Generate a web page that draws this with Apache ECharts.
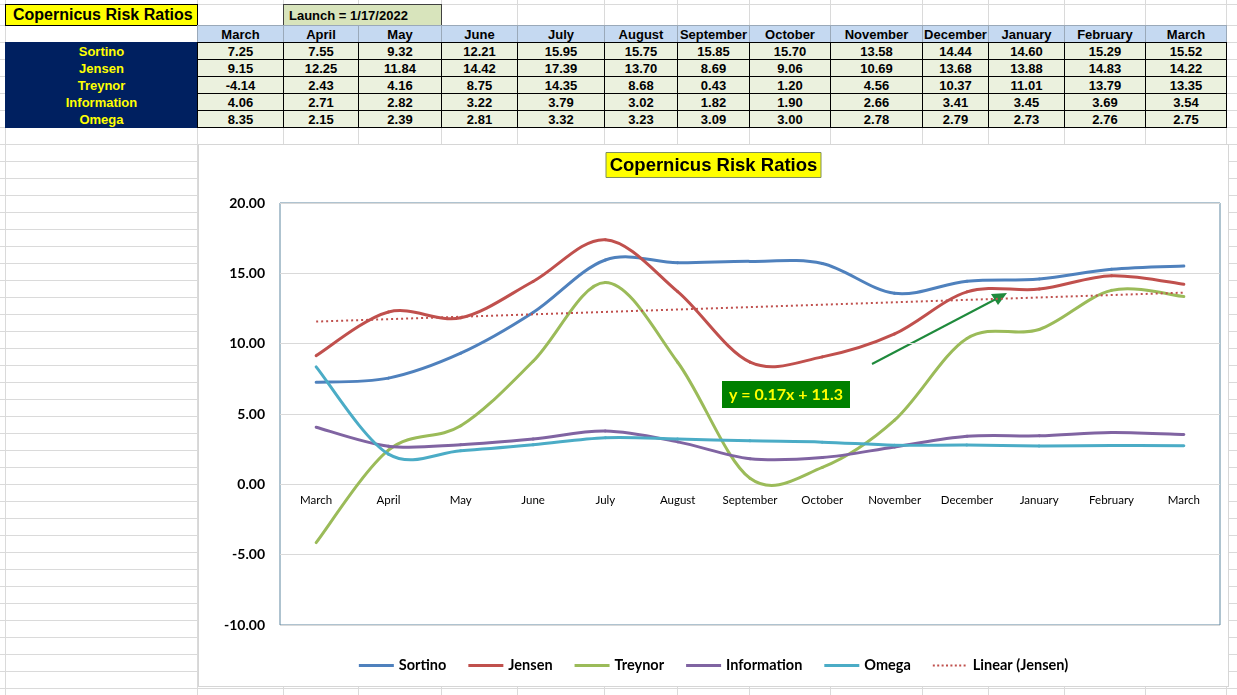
<!DOCTYPE html>
<html>
<head>
<meta charset="utf-8">
<script src="https://cdn.jsdelivr.net/npm/echarts@6/dist/echarts.min.js"></script>
<style>
  html, body { margin: 0; padding: 0; }
  body { width: 1237px; height: 695px; overflow: hidden; background: #fff; position: relative; }
  .gl { position: absolute; background: #dadada; }
  .cell { position: absolute; box-sizing: border-box; display: flex; align-items: center; justify-content: center;
          font: bold 13px "Liberation Sans", Arial, sans-serif; color: #000; white-space: nowrap; overflow: hidden; }
  #frame { position: absolute; left: 198px; top: 144px; width: 1031px; height: 543px; box-sizing: border-box;
           border: 1px solid #d6d6d6; background: #fff; }
  #chart { position: absolute; left: 0; top: 0; width: 1029px; height: 541px; }
</style>
</head>
<body>
<div id="sheet"></div>
<div id="frame"><div id="chart"></div></div>
<script>
// ---------- data ----------
const months = ['March','April','May','June','July','August','September','October','November','December','January','February','March'];
const seriesNames = ['Sortino','Jensen','Treynor','Information','Omega'];
const sortino     = [7.25, 7.55, 9.32, 12.21, 15.95, 15.75, 15.85, 15.70, 13.58, 14.44, 14.60, 15.29, 15.52];
const jensen      = [9.15, 12.25, 11.84, 14.42, 17.39, 13.70, 8.69, 9.06, 10.69, 13.68, 13.88, 14.83, 14.22];
const treynor     = [-4.14, 2.43, 4.16, 8.75, 14.35, 8.68, 0.43, 1.20, 4.56, 10.37, 11.01, 13.79, 13.35];
const information = [4.06, 2.71, 2.82, 3.22, 3.79, 3.02, 1.82, 1.90, 2.66, 3.41, 3.45, 3.69, 3.54];
const omega       = [8.35, 2.15, 2.39, 2.81, 3.32, 3.23, 3.09, 3.00, 2.78, 2.79, 2.73, 2.76, 2.75];
const sheetTitle = 'Copernicus Risk Ratios';
const launchText = 'Launch = 1/17/2022';
const chartTitle = 'Copernicus Risk Ratios';
const trendName = 'Linear (Jensen)';
const trendEquation = 'y = 0.17x + 11.3';
const yMin = -10, yMax = 20, yStep = 5;

const seriesValues = [sortino, jensen, treynor, information, omega];
const seriesColors = ['#4F81BD', '#C0504D', '#9BBB59', '#8064A2', '#4BACC6'];

// ---------- spreadsheet ----------
const colEdges = [5, 197, 283, 358, 441, 517, 604, 677, 749, 830, 922, 988, 1064, 1145, 1226];
const rowH = 17;
const sheet = document.getElementById('sheet');
function add(x, y, w, h, cls, css, text) {
  const d = document.createElement('div');
  d.className = cls;
  d.style.left = x + 'px'; d.style.top = y + 'px'; d.style.width = w + 'px'; d.style.height = h + 'px';
  if (css) Object.assign(d.style, css);
  if (text !== undefined) d.textContent = text;
  sheet.appendChild(d);
  return d;
}
colEdges.forEach(x => add(x, 0, 1, 695, 'gl'));
[4, 25].forEach(y => add(0, y, 1237, 1, 'gl'));
for (let y = 42; y < 695; y += rowH) add(0, y, 1237, 1, 'gl');

add(5, 4, 193, 22, 'cell', { background: '#FFFF00', border: '1px solid #000', justifyContent: 'flex-start',
  paddingLeft: '7px', fontSize: '16px' }, sheetTitle);
add(283, 4, 159, 22, 'cell', { background: '#D8E4BC', border: '1px solid #404040', justifyContent: 'flex-start',
  paddingLeft: '5px', fontSize: '13px' }, launchText);
months.forEach((m, i) => {
  add(colEdges[i + 1], 25, colEdges[i + 2] - colEdges[i + 1] + 1, 18, 'cell',
      { background: '#C5D9F1', border: '1px solid #9aa9b9' }, m);
});
add(5, 42, 193, 5 * rowH + 1, 'cell', { background: '#002060' });
seriesNames.forEach((n, r) => {
  add(5, 42 + r * rowH, 193, rowH + 1, 'cell', { color: '#FFFF00' }, n);
});
seriesValues.forEach((vals, r) => {
  vals.forEach((v, i) => {
    add(colEdges[i + 1], 42 + r * rowH, colEdges[i + 2] - colEdges[i + 1] + 1, rowH + 1, 'cell',
        { background: '#EBF1DE', border: '1px solid #000' }, v.toFixed(2));
  });
});

// ---------- trend line (least squares on Jensen, like Excel) ----------
const n = jensen.length;
const xs = jensen.map((_, i) => i + 1);
const mx = xs.reduce((a, b) => a + b, 0) / n;
const my = jensen.reduce((a, b) => a + b, 0) / n;
let sxy = 0, sxx = 0;
xs.forEach((x, i) => { sxy += (x - mx) * (jensen[i] - my); sxx += (x - mx) * (x - mx); });
const slope = sxy / sxx, intercept = my - slope * mx;
const trend = xs.map(x => +(intercept + slope * x).toFixed(4));

// ---------- chart ----------
const gridH = 422;
const chart = echarts.init(document.getElementById('chart'), null, { renderer: 'canvas' });

// Excel-like smoothed line: Catmull-Rom bezier segments through data points, positioned by the axes
function splineSeries(name, vals, color) {
  const last = vals.length - 1;
  return {
    name, type: 'custom', data: vals.map((v, i) => [i, v]),
    encode: { x: 0, y: 1 },
    itemStyle: { color },
    renderItem: (params, api) => {
      const i = params.dataIndex;
      if (i >= last) return null;
      const P = k => { const c = Math.max(0, Math.min(last, k)); return api.coord([c, vals[c]]); };
      const p0 = P(i - 1), p1 = P(i), p2 = P(i + 1), p3 = P(i + 2);
      const t = 1 / 6;
      return {
        type: 'bezierCurve',
        shape: {
          x1: p1[0], y1: p1[1],
          cpx1: p1[0] + (p2[0] - p0[0]) * t, cpy1: p1[1] + (p2[1] - p0[1]) * t,
          cpx2: p2[0] - (p3[0] - p1[0]) * t, cpy2: p2[1] - (p3[1] - p1[1]) * t,
          x2: p2[0], y2: p2[1]
        },
        style: { stroke: color, lineWidth: 3, fill: null, lineCap: 'round' }
      };
    }
  };
}
const series = seriesNames.map((name, k) => splineSeries(name, seriesValues[k], seriesColors[k]));
series.push({
  name: trendName, type: 'line', data: trend, symbol: 'none', smooth: false,
  lineStyle: { width: 2, color: '#C0504D', type: [2, 3] }, itemStyle: { color: '#C0504D' }
});

let dots = '';
for (let x = 0; x < 35; x += 4.4) dots += 'M' + x.toFixed(1) + ',0h2v2h-2z';

chart.setOption({
  animation: false,
  title: {
    text: chartTitle, left: 'center', top: 7,
    backgroundColor: '#FFFF00', borderColor: '#7f8f5f', borderWidth: 1, padding: [4, 4, 3, 4],
    textStyle: { fontFamily: 'Liberation Sans, Arial', fontWeight: 'bold', fontSize: 18.5, color: '#000' }
  },
  legend: {
    data: seriesNames.map(nm => ({ name: nm })).concat([{ name: trendName, icon: 'path://' + dots + 'M35,0h0v2h0z' }]),
    left: 'center', top: 508, icon: 'rect',
    itemWidth: 35, itemHeight: 3, itemGap: 22,
    textStyle: { fontFamily: 'Lato', fontWeight: 'bold', fontSize: 14.5, color: '#000' }
  },
  grid: { left: 81, top: 58, width: 940, height: gridH, show: true, borderColor: '#5f87a0', borderWidth: 1, backgroundColor: 'transparent' },
  xAxis: {
    type: 'category', data: months, boundaryGap: true,
    offset: -(0 - yMin) / (yMax - yMin) * gridH,
    axisLine: { show: false, onZero: false },
    axisTick: { show: false },
    axisLabel: { interval: 0, margin: 10, fontFamily: 'Lato', fontSize: 11.5, color: '#000' },
    splitLine: { show: false }
  },
  yAxis: {
    type: 'value', min: yMin, max: yMax, interval: yStep,
    axisLine: { show: false }, axisTick: { show: false },
    axisLabel: { margin: 15, fontFamily: 'Lato', fontWeight: 'bold', fontSize: 14, color: '#000',
                 formatter: v => v.toFixed(2) },
    splitLine: { lineStyle: { color: '#d9d9d9', width: 1 } }
  },
  graphic: [
    { type: 'group', left: 523, top: 236, children: [
      { type: 'rect', shape: { x: 0, y: 0, width: 128, height: 27 }, style: { fill: '#008000' } },
      { type: 'text', x: 64, y: 14, style: { text: trendEquation, fill: '#FFFF00', font: 'bold 16px Lato',
        textAlign: 'center', textVerticalAlign: 'middle' } }
    ]},
    { type: 'line', shape: { x1: 673, y1: 219, x2: 797, y2: 154 }, style: { stroke: '#1f8a3c', lineWidth: 2 } },
    { type: 'polygon', shape: { points: [[808, 148], [792, 149], [799, 160]] }, style: { fill: '#1f8a3c' } }
  ],
  series
});
</script>
</body>
</html>
